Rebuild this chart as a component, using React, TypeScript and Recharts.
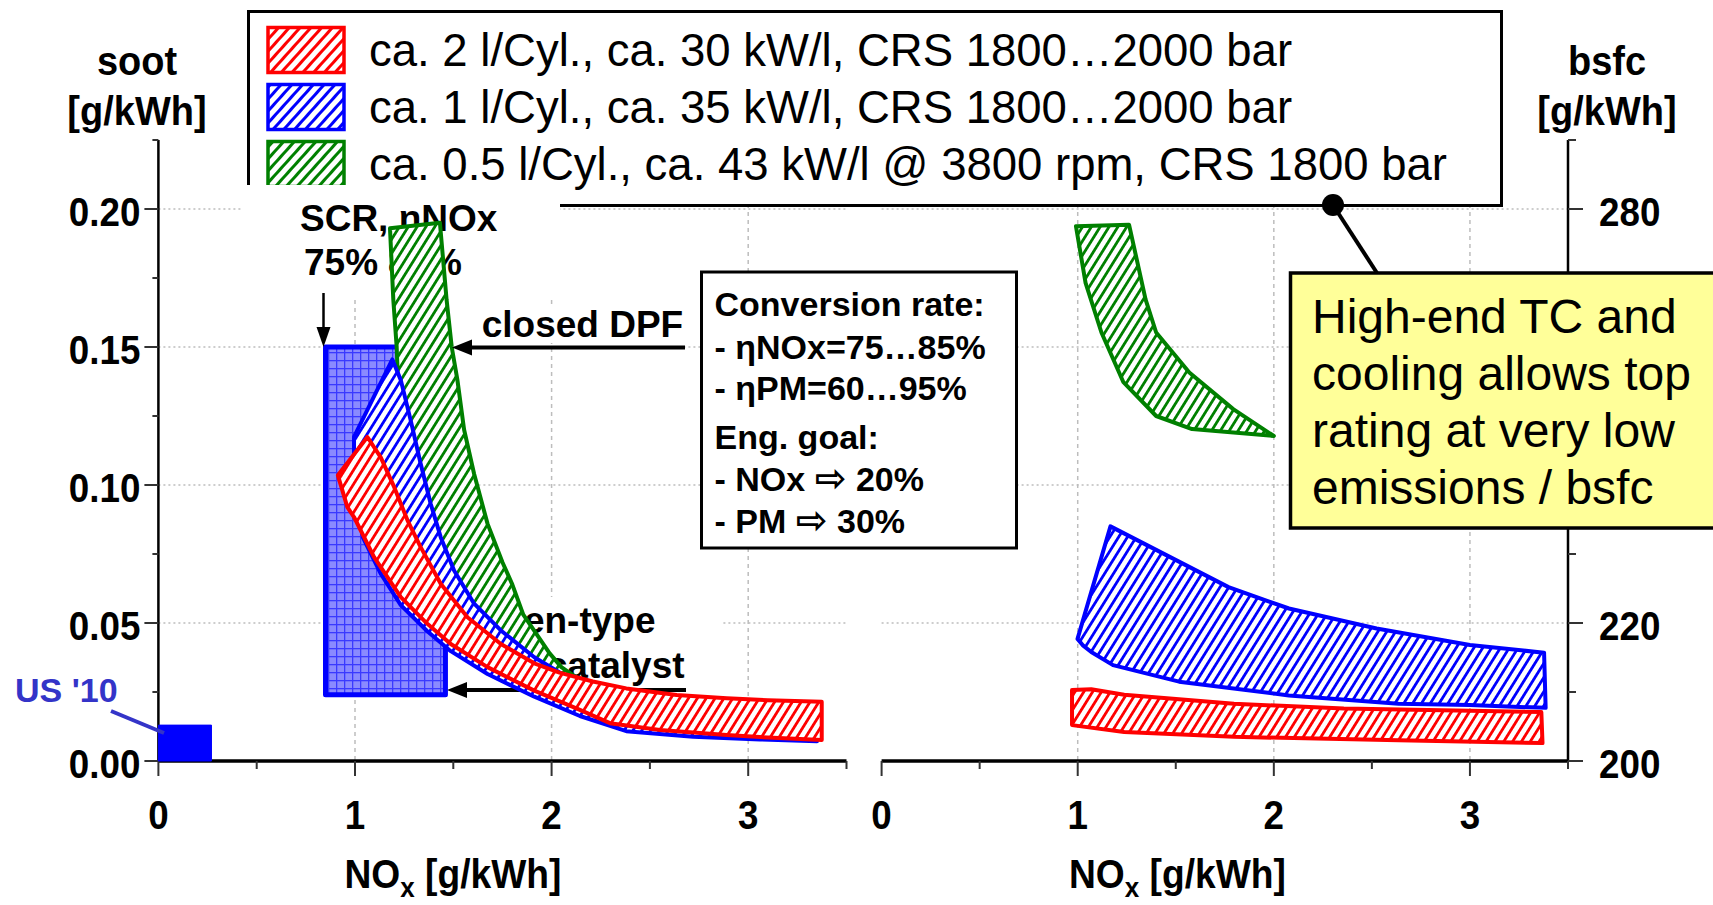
import React from 'react';
import { ScatterChart, Scatter, XAxis, YAxis, CartesianGrid } from 'recharts';

const FONT = '"Liberation Sans", Arial, Helvetica, sans-serif';
const ARROW_FONT = '"DejaVu Sans", "Noto Sans", sans-serif';
const RED = '#ff0000';
const BLUE = '#0000ff';
const GREEN = '#008000';
const GRID = '#bdbdbd';
const US_BLUE = '#3434c8';

// ---------- axes ----------
const noxTicks = [0, 0.5, 1, 1.5, 2, 2.5, 3, 3.5];
const noxGrid = [1, 2, 3];
const sootTicks = [0, 0.025, 0.05, 0.075, 0.1, 0.125, 0.15, 0.175, 0.2, 0.225];
const sootGrid = [0.05, 0.1, 0.15, 0.2];
const bsfcTicks = [200, 210, 220, 230, 240, 250, 260, 270, 280, 290];
const bsfcLabels = [200, 220, 280]; // 240 and 260 are hidden behind the note box
const bsfcGrid = [220, 240, 260, 280];

// ---------- left panel: soot vs NOx ----------
const redSootNox = [0.913, 1.063, 1.131, 1.199, 1.267, 1.334, 1.436, 1.572, 1.742, 1.912, 2.04, 2.21, 2.38, 2.636, 2.891, 3.1, 3.374,
  3.374, 3.1, 2.891, 2.551, 2.297, 2.144, 1.912, 1.674, 1.487, 1.368, 1.233, 1.097, 0.995, 0.961];
const redSoot = [0.1035, 0.1174, 0.11, 0.0993, 0.0872, 0.0775, 0.0642, 0.0521, 0.0424, 0.0354, 0.032, 0.0288, 0.0263, 0.0239, 0.0227, 0.022, 0.0215,
  0.0076, 0.0085, 0.0094, 0.0112, 0.0137, 0.0185, 0.0255, 0.034, 0.0424, 0.0497, 0.0594, 0.0739, 0.0884, 0.092];

const blueSootNox = [0.995, 1.19, 1.233, 1.283, 1.334, 1.385, 1.436, 1.504, 1.606, 1.742, 1.912, 2.081, 2.3, 2.6, 3.0, 3.35,
  3.35, 3.06, 2.72, 2.38, 2.144, 1.912, 1.674, 1.487, 1.368, 1.233, 1.13, 1.04, 0.995];
const blueSoot = [0.1174, 0.1455, 0.138, 0.1235, 0.1077, 0.0932, 0.0811, 0.069, 0.057, 0.0473, 0.0376, 0.0304, 0.026, 0.023, 0.0215, 0.0208,
  0.0072, 0.0078, 0.0088, 0.0108, 0.0163, 0.0233, 0.0315, 0.0398, 0.047, 0.0565, 0.068, 0.081, 0.1];

const greenSootNox = [1.178, 1.432, 1.466, 1.492, 1.521, 1.555, 1.606, 1.674, 1.75, 1.8, 1.856, 1.99, 2.05, 2.15,
  2.1, 1.95, 1.8, 1.6, 1.45, 1.35, 1.28, 1.22, 1.212, 1.195];
const greenSoot = [0.193, 0.195, 0.167, 0.15, 0.138, 0.12, 0.104, 0.086, 0.072, 0.064, 0.053, 0.039, 0.034, 0.029,
  0.027, 0.033, 0.042, 0.054, 0.068, 0.086, 0.11, 0.135, 0.15, 0.167];

const scrNox = [0.85, 1.46];
const scrSoot = [0.024, 0.15];
const us10Nox = [0, 0.27];
const us10Soot = [0, 0.013];

// ---------- right panel: bsfc vs NOx ----------
const redBsfcNox = [0.971, 1.069, 1.237, 1.797, 2.357, 3.364, 3.37, 2.636, 1.797, 1.237, 0.971];
const redBsfc = [210.3, 210.4, 209.6, 208.3, 207.6, 207.1, 202.6, 203.0, 203.5, 204.2, 205.2];

const blueBsfcNox = [0.999, 1.167, 1.769, 2.077, 2.524, 3.0, 3.378, 3.386, 3.0, 2.636, 2.077, 1.517, 1.18, 1.069, 1.025];
const blueBsfc = [217.7, 234.0, 225.2, 222.1, 219.2, 216.8, 215.7, 207.7, 208.1, 208.3, 209.5, 211.5, 213.9, 215.8, 216.8];

const greenBsfcNox = [0.991, 1.262, 1.346, 1.4, 1.569, 1.793, 2.0, 1.583, 1.4, 1.233, 1.121, 1.04];
const greenBsfc = [277.5, 277.7, 266.9, 262.1, 256.3, 251.0, 247.1, 248.1, 250.0, 254.9, 262.1, 269.3];

// ---------- texts ----------
const legendLabels = [
  'ca. 2 l/Cyl., ca. 30 kW/l, CRS 1800…2000 bar',
  'ca. 1 l/Cyl., ca. 35 kW/l, CRS 1800…2000 bar',
  'ca. 0.5 l/Cyl., ca. 43 kW/l @ 3800 rpm, CRS 1800 bar',
];
const legendPatterns = ['lgR', 'lgB', 'lgG'];
const legendColors = [RED, BLUE, GREEN];
// [before arrow, arrow, after arrow]
const convLines: string[][] = [
  ['Conversion rate:', '', ''],
  ['- ηNOx=75…85%', '', ''],
  ['- ηPM=60…95%', '', ''],
  ['Eng. goal:', '', ''],
  ['- NOx ', '⇨', ' 20%'],
  ['- PM ', '⇨', ' 30%'],
];
const convBaselines = [316, 359, 400, 449, 491, 533];
const noteLines = ['High-end TC and', 'cooling allows top', 'rating at very low', 'emissions / bsfc'];

const zip = (xs: number[], ys: number[]) => xs.map((x, i) => ({ x, y: ys[i] }));
const rectPts = (xs: number[], ys: number[]) => [
  { x: xs[0], y: ys[0] }, { x: xs[1], y: ys[0] }, { x: xs[1], y: ys[1] }, { x: xs[0], y: ys[1] },
];

const noShape = () => <g />;

const tickText = (x: number, y: number, label: string, anchor: 'start' | 'middle' | 'end') => (
  <text
    transform={`translate(${x},${y}) scale(0.92,1)`}
    textAnchor={anchor}
    fontFamily={FONT}
    fontWeight="bold"
    fontSize={40}
    fill="#000"
  >
    {label}
  </text>
);

const XTick = (props: any) => {
  const { x, y, payload } = props;
  const v = payload.value as number;
  const major = Math.abs(v - Math.round(v)) < 1e-6;
  return (
    <g>
      <line x1={x} y1={y} x2={x} y2={y + (major ? 15 : 8)} stroke="#333" strokeWidth={2} />
      {major ? tickText(x, y + 68, String(v), 'middle') : null}
    </g>
  );
};

const SootTick = (props: any) => {
  const { x, y, payload } = props;
  const v = payload.value as number;
  const major = Math.round(v * 1000) % 50 === 0;
  return (
    <g>
      <line x1={x - (major ? 14 : 6)} y1={y} x2={x} y2={y} stroke="#333" strokeWidth={2} />
      {major ? tickText(x - 18, y + 17, v.toFixed(2), 'end') : null}
    </g>
  );
};

const BsfcTick = (props: any) => {
  const { x, y, payload } = props;
  const v = payload.value as number;
  const major = (v - 200) % 20 === 0;
  return (
    <g>
      <line x1={x} y1={y} x2={x + (major ? 15 : 8)} y2={y} stroke="#333" strokeWidth={2} />
      {bsfcLabels.includes(v) ? tickText(x + 31, y + 17, String(v), 'start') : null}
    </g>
  );
};

const band = (data: { x: number; y: number }[], color: string, fill: string, sw = 4) => ({
  data,
  line: { stroke: color, strokeWidth: sw, fill, strokeLinejoin: 'round' as const },
});

const layer: React.CSSProperties = { position: 'absolute', top: 0 };

const Arrow = ({ x1, y1, x2, y2, w = 4, head = 20, half = 8 }: any) => {
  const dx = x2 - x1;
  const dy = y2 - y1;
  const len = Math.hypot(dx, dy);
  const ux = dx / len;
  const uy = dy / len;
  const bx = x2 - ux * head;
  const by = y2 - uy * head;
  const px = -uy * half;
  const py = ux * half;
  return (
    <g>
      <line x1={x1} y1={y1} x2={bx + ux * 2} y2={by + uy * 2} stroke="#000" strokeWidth={w} />
      <polygon points={`${x2},${y2} ${bx + px},${by + py} ${bx - px},${by - py}`} fill="#000" />
    </g>
  );
};

const boldText = (x: number, y: number, s: string, size = 37, anchor: 'start' | 'middle' | 'end' = 'start', fill = '#000') => (
  <text x={x} y={y} textAnchor={anchor} fontFamily={FONT} fontWeight="bold" fontSize={size} fill={fill}>
    {s}
  </text>
);

const condTitle = (cx: number, y: number, s: string) => (
  <text transform={`translate(${cx},${y}) scale(0.95,1)`} textAnchor="middle" fontFamily={FONT} fontWeight="bold" fontSize={40} fill="#000">
    {s}
  </text>
);

const noxTitle = (x: number) => (
  <text transform={`translate(${x},888) scale(0.93,1)`} fontFamily={FONT} fontWeight="bold" fontSize={40} fill="#000">
    <tspan>NO</tspan>
    <tspan dy={9} fontSize={28}>x</tspan>
    <tspan dy={-9}> [g/kWh]</tspan>
  </text>
);

export default function App() {
  const redS = band(zip(redSootNox, redSoot), RED, 'url(#hR)');
  const blueS = band(zip(blueSootNox, blueSoot), BLUE, 'url(#hB)');
  const greenS = band(zip(greenSootNox, greenSoot), GREEN, 'url(#hG)');
  const scr = band(rectPts(scrNox, scrSoot), BLUE, 'url(#cross)', 5);
  const us10 = band(rectPts(us10Nox, us10Soot), BLUE, BLUE, 1);
  const redB = band(zip(redBsfcNox, redBsfc), RED, 'url(#hR)');
  const blueB = band(zip(blueBsfcNox, blueBsfc), BLUE, 'url(#hB)');
  const greenB = band(zip(greenBsfcNox, greenBsfc), GREEN, 'url(#hG)');

  const leftW = 880;
  const rightW = 853;

  return (
    <div style={{ position: 'absolute', left: 0, top: 0, width: 1713, height: 905, background: '#fff', overflow: 'hidden' }}>
      <svg width={0} height={0} style={{ position: 'absolute' }}>
        <defs>
          <pattern id="hR" patternUnits="userSpaceOnUse" width={7.5} height={7.5} patternTransform="rotate(32)">
            <rect width={7.5} height={7.5} fill="#fff" />
            <rect width={2.8} height={7.5} fill={RED} />
          </pattern>
          <pattern id="hB" patternUnits="userSpaceOnUse" width={7.5} height={7.5} patternTransform="rotate(32)">
            <rect width={7.5} height={7.5} fill="#fff" />
            <rect width={2.8} height={7.5} fill={BLUE} />
          </pattern>
          <pattern id="hG" patternUnits="userSpaceOnUse" width={7.5} height={7.5} patternTransform="rotate(32)">
            <rect width={7.5} height={7.5} fill="#fff" />
            <rect width={2.8} height={7.5} fill={GREEN} />
          </pattern>
          <pattern id="lgR" patternUnits="userSpaceOnUse" width={8} height={8} patternTransform="rotate(42)">
            <rect width={8} height={8} fill="#fff" />
            <rect width={3} height={8} fill={RED} />
          </pattern>
          <pattern id="lgB" patternUnits="userSpaceOnUse" width={8} height={8} patternTransform="rotate(42)">
            <rect width={8} height={8} fill="#fff" />
            <rect width={3} height={8} fill={BLUE} />
          </pattern>
          <pattern id="lgG" patternUnits="userSpaceOnUse" width={8} height={8} patternTransform="rotate(42)">
            <rect width={8} height={8} fill="#fff" />
            <rect width={3} height={8} fill={GREEN} />
          </pattern>
          <pattern id="cross" patternUnits="userSpaceOnUse" width={8} height={8}>
            <rect width={8} height={8} fill="#8a8aff" />
            <rect width={8} height={1.3} fill="#3a3aff" />
            <rect width={1.3} height={8} fill="#3a3aff" />
          </pattern>
        </defs>
      </svg>

      {/* ===== Layer 0: axes, grid, frames ===== */}
      <div style={{ ...layer, left: 0 }}>
        <ScatterChart width={leftW} height={905} margin={{ top: 140, right: 33.5, bottom: 0, left: 0 }}>
          <CartesianGrid horizontal vertical={false} horizontalValues={sootGrid} stroke={GRID} strokeWidth={1.5} strokeDasharray="2 3" />
          <CartesianGrid horizontal={false} vertical verticalValues={noxGrid} stroke={GRID} strokeWidth={1.5} strokeDasharray="4 4" />
          <XAxis dataKey="x" type="number" domain={[0, 3.5]} ticks={noxTicks} interval={0} height={144}
            tick={<XTick />} tickLine={false} tickSize={0} tickMargin={0} axisLine={{ stroke: '#000', strokeWidth: 3.5 }} />
          <XAxis xAxisId="top" orientation="top" dataKey="x" type="number" domain={[0, 3.5]} height={0} tick={false} tickLine={false}
            axisLine={{ stroke: '#000', strokeWidth: 2 }} />
          <YAxis dataKey="y" type="number" domain={[0, 0.225]} ticks={sootTicks} interval={0} width={158.4}
            tick={<SootTick />} tickLine={false} tickSize={0} tickMargin={0} axisLine={{ stroke: '#000', strokeWidth: 2.5 }} />
          <YAxis yAxisId="right" orientation="right" dataKey="y" type="number" domain={[0, 0.225]} width={0} tick={false} tickLine={false}
            axisLine={{ stroke: '#000', strokeWidth: 2 }} />
          <Scatter data={us10.data} shape={noShape} isAnimationActive={false} />
        </ScatterChart>
      </div>
      <div style={{ ...layer, left: 860 }}>
        <ScatterChart width={rightW} height={905} margin={{ top: 140, right: 0, bottom: 0, left: 21.6 }}>
          <CartesianGrid horizontal vertical={false} horizontalValues={bsfcGrid} stroke={GRID} strokeWidth={1.5} strokeDasharray="2 3" />
          <CartesianGrid horizontal={false} vertical verticalValues={noxGrid} stroke={GRID} strokeWidth={1.5} strokeDasharray="4 4" />
          <XAxis dataKey="x" type="number" domain={[0, 3.5]} ticks={noxTicks} interval={0} height={144}
            tick={<XTick />} tickLine={false} tickSize={0} tickMargin={0} axisLine={{ stroke: '#000', strokeWidth: 3.5 }} />
          <XAxis xAxisId="top" orientation="top" dataKey="x" type="number" domain={[0, 3.5]} height={0} tick={false} tickLine={false}
            axisLine={{ stroke: '#000', strokeWidth: 2 }} />
          <YAxis orientation="right" dataKey="y" type="number" domain={[200, 290]} ticks={bsfcTicks} interval={0} width={145}
            tick={<BsfcTick />} tickLine={false} tickSize={0} tickMargin={0} axisLine={{ stroke: '#000', strokeWidth: 2.5 }} />
          <YAxis yAxisId="left" orientation="left" dataKey="y" type="number" domain={[200, 290]} width={0} tick={false} tickLine={false}
            axisLine={{ stroke: '#000', strokeWidth: 2 }} />
          <Scatter data={redB.data} shape={noShape} isAnimationActive={false} />
        </ScatterChart>
      </div>

      {/* ===== Layer 1/2: legend and text boxes lying under the bands ===== */}
      <svg width={1713} height={905} style={{ ...layer, left: 0 }}>
        <rect x={248.5} y={11.5} width={1253} height={194} fill="#fff" stroke="#000" strokeWidth={3} />
        {legendLabels.map((s, i) => (
          <g key={s}>
            <rect x={268} y={27.5 + i * 57} width={76} height={45} fill={`url(#${legendPatterns[i]})`} stroke={legendColors[i]} strokeWidth={3.5} />
            <text x={369} y={66 + i * 57} fontFamily={FONT} fontSize={45.5} fill="#000">{s}</text>
          </g>
        ))}
        {/* SCR text box */}
        <rect x={241} y={185} width={319} height={113} fill="#fff" />
        {boldText(300, 231, 'SCR, ηNOx')}
        {boldText(304, 275, '75%')}
        {boldText(462, 275, '85%', 37, 'end')}
        {/* open-type catalyst */}
        <rect x={470} y={597} width={251} height={100} fill="#fff" />
        {boldText(655.5, 633, 'open-type', 37, 'end')}
        {boldText(684.6, 678, 'catalyst', 37, 'end')}
        <Arrow x1={686} y1={690} x2={447} y2={690} />
      </svg>

      {/* ===== Layer 3: bands ===== */}
      <div style={{ ...layer, left: 0 }}>
        <ScatterChart width={leftW} height={905} margin={{ top: 140, right: 33.5, bottom: 144, left: 158.4 }}>
          <XAxis dataKey="x" type="number" domain={[0, 3.5]} hide height={0} />
          <YAxis dataKey="y" type="number" domain={[0, 0.225]} hide width={0} />
          <Scatter data={scr.data} line={scr.line} lineJointType="linearClosed" shape={noShape} isAnimationActive={false} />
          <Scatter data={greenS.data} line={greenS.line} lineJointType="linearClosed" shape={noShape} isAnimationActive={false} />
          <Scatter data={blueS.data} line={blueS.line} lineJointType="linearClosed" shape={noShape} isAnimationActive={false} />
          <Scatter data={redS.data} line={redS.line} lineJointType="linearClosed" shape={noShape} isAnimationActive={false} />
          <Scatter data={us10.data} line={us10.line} lineJointType="linearClosed" shape={noShape} isAnimationActive={false} />
        </ScatterChart>
      </div>
      <div style={{ ...layer, left: 860 }}>
        <ScatterChart width={rightW} height={905} margin={{ top: 140, right: 145, bottom: 144, left: 21.6 }}>
          <XAxis dataKey="x" type="number" domain={[0, 3.5]} hide height={0} />
          <YAxis dataKey="y" type="number" domain={[200, 290]} hide width={0} />
          <Scatter data={redB.data} line={redB.line} lineJointType="linearClosed" shape={noShape} isAnimationActive={false} />
          <Scatter data={blueB.data} line={blueB.line} lineJointType="linearClosed" shape={noShape} isAnimationActive={false} />
          <Scatter data={greenB.data} line={greenB.line} lineJointType="linearClosed" shape={noShape} isAnimationActive={false} />
        </ScatterChart>
      </div>

      {/* ===== Layer 4: annotations on top ===== */}
      <svg width={1713} height={905} style={{ ...layer, left: 0 }}>
        {condTitle(137, 75, 'soot')}
        {condTitle(137, 125, '[g/kWh]')}
        {condTitle(1607, 75, 'bsfc')}
        {condTitle(1607, 125, '[g/kWh]')}
        {noxTitle(344.5)}
        {noxTitle(1069)}

        {/* conversion box */}
        <rect x={701.5} y={272} width={315} height={276} fill="#fff" stroke="#000" strokeWidth={3} />
        {convLines.map((parts, i) => (
          <text key={i} x={714.5} y={convBaselines[i]} fontFamily={FONT} fontWeight="bold" fontSize={34} fill="#000">
            <tspan>{parts[0]}</tspan>
            {parts[1] ? <tspan fontFamily={ARROW_FONT} fontWeight="bold" fontSize={38}>{parts[1]}</tspan> : null}
            {parts[2] ? <tspan>{parts[2]}</tspan> : null}
          </text>
        ))}

        {/* yellow note */}
        <line x1={1333} y1={205} x2={1377} y2={273} stroke="#000" strokeWidth={4} />
        <circle cx={1333} cy={205} r={11} fill="#000" />
        <rect x={1290.5} y={273} width={440} height={255} fill="#ffff99" stroke="#000" strokeWidth={3.5} />
        {noteLines.map((s, i) => (
          <text key={s} x={1312} y={333 + i * 57} fontFamily={FONT} fontSize={48} fill="#000">{s}</text>
        ))}

        {/* closed DPF */}
        <rect x={477} y={306} width={212} height={37} fill="#fff" />
        {boldText(481.7, 337, 'closed DPF')}
        <Arrow x1={685} y1={347.5} x2={452} y2={347.5} />

        {/* SCR arrow */}
        <Arrow x1={323.5} y1={293} x2={323.5} y2={347} w={2.5} head={20} half={7} />

        {/* US '10 */}
        {boldText(15, 702, "US '10", 34, 'start', US_BLUE)}
        <line x1={111} y1={711} x2={164} y2={733} stroke={US_BLUE} strokeWidth={4} />
      </svg>
    </div>
  );
}
